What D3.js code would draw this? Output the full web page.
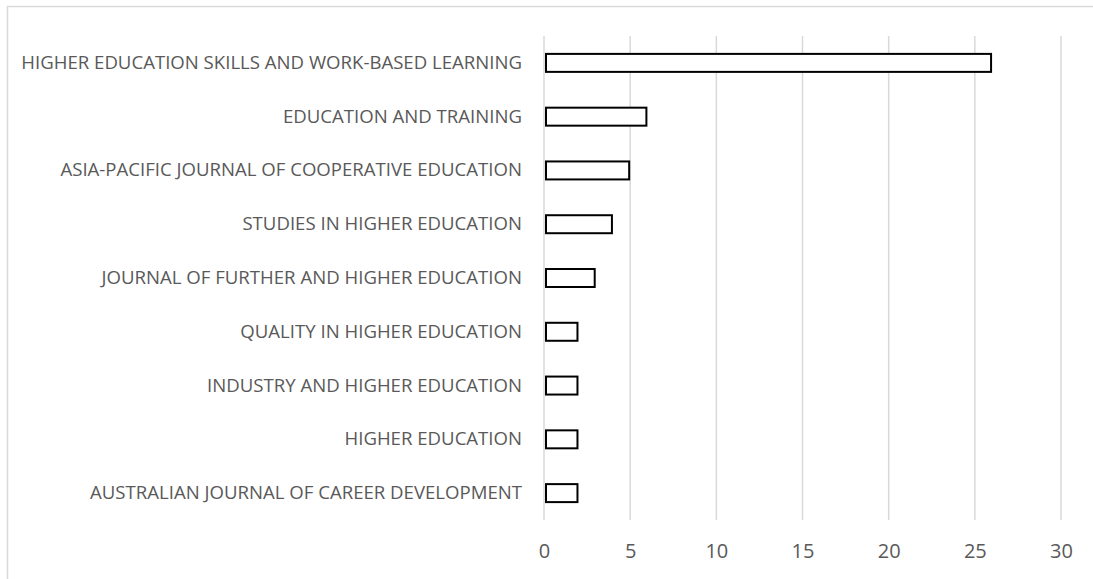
<!DOCTYPE html>
<html>
<head>
<meta charset="utf-8">
<script src="https://cdn.jsdelivr.net/npm/d3@7"></script>
<style>
  body { margin: 0; background: #fff; }
  svg { display: block; }
</style>
</head>
<body>
<svg width="1093" height="579"></svg>
<script>
// Data
var journals = [
    "HIGHER EDUCATION SKILLS AND WORK-BASED LEARNING",
    "EDUCATION AND TRAINING",
    "ASIA-PACIFIC JOURNAL OF COOPERATIVE EDUCATION",
    "STUDIES IN HIGHER EDUCATION",
    "JOURNAL OF FURTHER AND HIGHER EDUCATION",
    "QUALITY IN HIGHER EDUCATION",
    "INDUSTRY AND HIGHER EDUCATION",
    "HIGHER EDUCATION",
    "AUSTRALIAN JOURNAL OF CAREER DEVELOPMENT"
];
var counts = [26, 6, 5, 4, 3, 2, 2, 2, 2];
var xTicks = [0, 5, 10, 15, 20, 25, 30];

var margin = { top: 36, left: 544 };
var width = 1061 - margin.left;
var height = 520 - margin.top;

var svg = d3.select("svg");

// chart border (runs off the right and bottom edges)
svg.append("rect")
    .attr("x", 7.5)
    .attr("y", 6.5)
    .attr("width", 1200)
    .attr("height", 700)
    .attr("fill", "none")
    .attr("stroke", "#d9d9d9")
    .attr("stroke-width", 1.5);

var g = svg.append("g")
    .attr("transform", "translate(" + margin.left + "," + margin.top + ")");

var xScale = d3.scaleLinear().domain([0, 30]).range([0, width]);
var yScale = d3.scaleBand().domain(journals).range([0, height]).paddingInner(0.647).paddingOuter(0.3235);

// gridlines
g.append("g")
    .attr("class", "grid")
    .selectAll("line")
    .data(xTicks)
    .enter().append("line")
    .attr("x1", function(d) { return xScale(d); })
    .attr("x2", function(d) { return xScale(d); })
    .attr("y1", 0)
    .attr("y2", height)
    .attr("stroke", "#d9d9d9")
    .attr("stroke-width", 1.5);

// x axis labels
var xAxis = d3.axisBottom(xScale).tickValues(xTicks).tickSize(0).tickPadding(24);
g.append("g")
    .attr("class", "axis axis--x")
    .attr("transform", "translate(0," + height + ")")
    .call(xAxis)
    .call(function(s) { s.select(".domain").remove(); })
    .selectAll("text")
    .attr("font-family", "'Open Sans', sans-serif")
    .attr("font-size", "20px")
    .attr("fill", "#595959");

// y axis labels
var yAxis = d3.axisLeft(yScale).tickSize(0).tickPadding(22);
g.append("g")
    .attr("class", "axis axis--y")
    .call(yAxis)
    .call(function(s) { s.select(".domain").remove(); })
    .selectAll("text")
    .attr("font-family", "'Open Sans', sans-serif")
    .attr("font-size", "18.6px")
    .attr("fill", "#595959");

// bars
g.selectAll(".bar")
    .data(journals)
    .enter().append("rect")
    .attr("class", "bar")
    .attr("x", xScale(0) + 2)
    .attr("y", function(d) { return yScale(d) + 0.5; })
    .attr("width", function(d, i) { return xScale(counts[i]) - xScale(0) - 3; })
    .attr("height", yScale.bandwidth() - 1)
    .attr("fill", "#fff")
    .attr("stroke", "#000")
    .attr("stroke-width", 2);
</script>
</body>
</html>
